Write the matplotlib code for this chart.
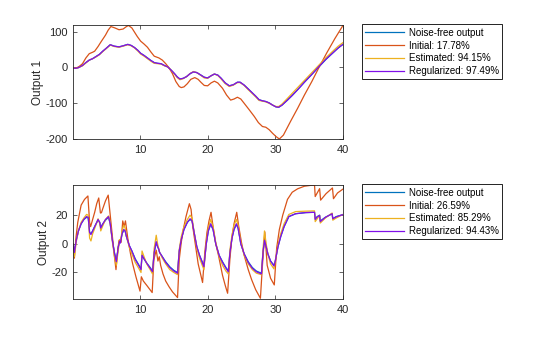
import matplotlib
matplotlib.use("Agg")
import matplotlib.pyplot as plt

plt.rcParams["font.family"] = ["Liberation Sans", "DejaVu Sans"]
plt.rcParams["axes.unicode_minus"] = False

C_TRUE = "#0072BD"
C_INIT = "#D95319"
C_EST = "#EDB120"
C_REG = "#8010E8"

# ---- output 1 ----
t1 = [0.1, 0.5, 0.9, 1.5, 2.0, 2.5, 3.0, 3.5, 4.0, 4.5, 5.0, 5.6, 6.2, 6.9, 7.5, 8.2, 8.7, 9.2,
      9.7, 10.1, 10.6, 11.1, 11.6, 12.1, 12.6, 13.1, 13.6, 14.1, 14.6, 15.1, 15.5, 15.9, 16.4,
      16.9, 17.4, 17.9, 18.4, 19.0, 19.5, 20.0, 20.5, 21.0, 21.5, 22.0, 22.6, 23.2, 23.8, 24.4,
      24.8, 25.4, 25.9, 26.5, 27.1, 27.6, 28.1, 28.6, 29.1, 29.6, 30.1, 30.5, 31.0, 31.8, 32.5,
      33.4, 34.3, 35.3, 36.5, 37.5, 38.5, 39.3, 40.0]
y1_true = [-2, -3, -1, 5, 13, 20, 24, 30, 36, 45, 53, 63, 59, 57, 60, 64, 61, 55, 47, 39, 33, 26,
           19, 13, 11, 10, 5, 1, -8, -18, -27, -33, -31, -26, -18, -13, -15, -22, -28, -30, -24,
           -19, -22, -31, -44, -52, -49, -42, -42, -50, -59, -70, -81, -91, -94, -96, -100, -106,
           -111, -112, -106, -92, -79, -61, -42, -22, 2, 22, 40, 54, 64]
y1_est = [-2, -3, -1, 4, 12, 20, 24, 29, 35, 44, 52, 62, 58, 56, 59, 63, 60, 54, 45, 37, 31, 24,
          17, 11, 10, 9, 4, 1, -8, -19, -29, -35, -32, -26, -18, -12, -15, -23, -30, -31, -24,
          -19, -23, -33, -46, -54, -50, -43, -43, -51, -61, -72, -83, -93, -95, -97, -101, -106,
          -110, -110, -103, -87, -73, -55, -37, -17, 7, 27, 45, 59, 69]
y1_reg = [-2, -3, -1, 5, 13, 20, 24, 30, 36, 45, 53, 63, 59, 57, 60, 64, 61, 55, 47, 39, 33, 26,
          19, 13, 11, 10, 5, 1, -8, -18, -27, -33, -31, -26, -18, -13, -15, -22, -28, -30, -24,
          -19, -22, -31, -44, -52, -49, -42, -42, -50, -59, -70, -81, -91, -94, -96, -100, -106,
          -111, -112, -106, -92, -79, -61, -42, -22, 3, 23, 40, 54, 64]

t1_init = [0.1, 0.6, 1.0, 1.5, 2.0, 2.5, 3.0, 3.3, 3.8, 4.2, 4.9, 5.3, 5.7, 6.3, 6.9, 7.5, 8.0,
           8.3, 8.8, 9.2, 9.6, 10.1, 10.6, 11.1, 11.6, 12.1, 12.8, 13.3, 13.8, 14.3, 14.8, 15.3,
           15.8, 16.1, 16.5, 17.0, 17.5, 18.1, 18.6, 19.0, 19.5, 20.0, 20.5, 21.0, 21.5, 22.2,
           22.8, 23.4, 23.9, 24.4, 24.9, 25.4, 26.1, 26.9, 27.5, 28.1, 28.6, 29.1, 29.6, 30.1,
           30.6, 31.2, 32.3, 33.3, 34.3, 35.4, 36.5, 37.6, 38.8, 40.0]
y1_init = [-2, -2, 2, 10, 26, 38, 42, 45, 58, 70, 90, 104, 114, 110, 105, 107, 114, 117, 110, 98,
           86, 73, 65, 56, 43, 31, 26, 20, 10, -2, -18, -40, -54, -57, -55, -46, -34, -29, -34,
           -42, -51, -52, -44, -39, -44, -59, -78, -92, -89, -84, -89, -101, -118, -138, -155,
           -166, -168, -175, -185, -194, -201, -190, -150, -115, -78, -40, 1, 40, 80, 117]

# ---- output 2 ----
t2 = [0.1, 0.3, 0.6, 0.9, 1.3, 1.7, 2.1, 2.35, 2.55, 2.75, 3.0, 3.4, 3.8, 4.05, 4.2, 4.45, 4.9,
      5.35, 5.6, 5.9, 6.2, 6.5, 6.8, 7.0, 7.1, 7.35, 7.6, 7.8, 8.0, 8.4, 8.8, 9.3, 9.8, 10.15,
      10.3, 10.6, 11.0, 11.5, 11.85, 12.1, 12.4, 12.6, 12.75, 12.9, 13.3, 13.8, 14.4, 15.0,
      15.55, 15.8, 16.1, 16.5, 17.0, 17.4, 17.7, 18.0, 18.4, 18.8, 19.2, 19.45, 19.8, 20.1,
      20.45, 20.8, 21.2, 21.7, 22.2, 22.7, 23.05, 23.3, 23.6, 23.9, 24.25, 24.5, 24.9, 25.4,
      26.0, 26.6, 27.2, 27.95, 28.2, 28.4, 28.65, 28.9, 29.3, 29.8, 30.0, 30.4, 30.8, 31.3,
      32.0, 33.0, 34.5, 35.8, 35.9, 36.2, 36.55, 36.65, 37.4, 38.4, 38.5, 39.0, 40.0]
y2_true = [0, -5, 3, 9, 14, 17, 18.5, 18, 8, 7, 9, 13, 16.5, 15, 11.5, 13.5, 16.5, 18.5, 14, 3,
           -5.5, -12, -2, 2, 1, 7, 9.5, 9, 5, -1, -5, -10.5, -14.5, -17.5, -8, -10.5, -13.5,
           -16.5, -19, -6, 1, -2, -3.5, -6, -9, -12.5, -16, -18.5, -20, -5, 3, 10, 15, 17, 16,
           8, -2, -8, -12.5, -15.5, 0, 9, 13.5, 10, 0, -8, -12.5, -16.5, -19, -6, 4, 10, 13.5,
           11, 0, -7, -12.5, -16.5, -19, -20.5, -5, 2, -2, -7, -12, -15, -12, -2, 5, 12, 19, 21,
           21.8, 22, 17.5, 19, 20, 16, 18.5, 21, 17.5, 19, 20.4]
y2_est = [0, -9, 2, 9, 15, 18, 20.5, 20, 4, 2, 7, 12, 17.5, 14, 9, 12, 17, 19.5, 14, 2, -8, -15,
          -4, 3, 1, 9, 13, 11, 5, -2, -7, -13, -17, -20, -5, -9, -14, -18, -21, -3, 6, 0, -3,
          -6, -10, -14, -18, -20, -21.5, -4, 5, 12, 17, 20, 18, 8, -3, -10, -15, -18, 1, 11, 17,
          12, 1, -9, -15, -19, -21, -4, 6, 13, 17, 13, 1, -8, -14, -18, -20.5, -21.5, -3, 9, 0,
          -7, -14, -17.5, -12, -1, 7, 14, 20.5, 22.5, 22.8, 23, 15.5, 17.5, 19.8, 14.5, 18, 21.5,
          16.5, 18, 20.5]
y2_reg = [0, -6, 3, 9, 14, 17, 19, 18.5, 8, 6.5, 9, 13, 17, 15, 11, 13.5, 17, 19, 14, 3, -6,
          -12.5, -2, 2, 0.5, 7, 10, 9, 5, -1, -5, -11, -15, -18, -8, -10.5, -13.5, -17, -19.5,
          -6, 1.5, -2, -3.5, -6, -9, -13, -16.5, -19, -20.5, -5, 3, 10, 15, 17.5, 16, 8, -2, -8,
          -13, -16, 0, 9, 14, 10, 0, -8, -13, -17, -19.5, -6, 4, 10, 14, 11, 0, -7, -13, -17,
          -19.5, -21, -5, 2.5, -2, -7, -12, -15.5, -12, -2, 5, 12, 19, 21, 21.8, 22, 17, 18.8,
          19.8, 15.5, 18.5, 21, 17.5, 18.8, 20.4]

t2_init = [0.1, 0.3, 0.55, 0.8, 1.3, 1.8, 2.3, 2.55, 2.7, 3.0, 3.3, 3.6, 3.9, 4.15, 4.3, 4.5,
           4.9, 5.3, 5.6, 5.9, 6.2, 6.45, 6.7, 6.9, 7.2, 7.45, 7.65, 7.85, 8.2, 8.6, 8.9, 9.4,
           10.0, 10.2, 10.5, 11.0, 11.4, 11.8, 12.05, 12.4, 12.65, 12.85, 13.05, 13.4, 13.8,
           14.3, 14.8, 15.55, 15.8, 16.1, 16.4, 16.8, 17.3, 17.55, 17.8, 18.2, 18.6, 19.0,
           19.25, 19.6, 19.9, 20.2, 20.5, 20.8, 21.2, 21.6, 22.2, 22.6, 22.95, 23.3, 23.6, 23.9,
           24.3, 24.6, 25.0, 25.4, 26.0, 26.5, 27.1, 27.8, 28.1, 28.45, 28.8, 29.3, 29.85, 30.2,
           30.6, 31.1, 31.8, 32.5, 33.3, 34.3, 35.2, 35.8, 35.9, 36.55, 36.7, 37.5, 38.45, 38.6,
           39.2, 40.0]
y2_init = [0, -10, 5, 15, 27, 31, 33.4, 15, 12, 17, 22, 28, 32, 21.5, 21.7, 24.6, 30, 34, 20, 6,
           -8, -18, -5, 2.5, 1, 16, 12, 16, 3.7, -7, -13.7, -23, -33, -23, -26, -29, -31.5, -34,
           -11, -4.4, -12, -9, -15, -21, -26, -30, -33.5, -37.5, -11, 1, 10, 19, 28, 24, 12, -1,
           -14, -22, -27, -5, 8, 16, 22, 12, 0, -8, -22, -29, -34.5, -10, 5, 14, 22, 12, 1, -8,
           -18, -25, -32, -38, -15, 8.3, -15, -24, -28.7, -3, 10, 20, 31, 36, 38.4, 40.2, 40.8,
           41, 33, 38.5, 30.5, 35, 39, 31.5, 35.5, 38.2]

panels = [
    dict(t=t1, y_true=y1_true, y_est=y1_est, y_reg=y1_reg, t_init=t1_init, y_init=y1_init,
         ylim=(-201, 118), yticks=[-200, -100, 0, 100], ylabel="Output 1",
         pct=["17.78%", "94.15%", "97.49%"], pos=[0.1304, 0.5875, 0.482, 0.338]),
    dict(t=t2, y_true=y2_true, y_est=y2_est, y_reg=y2_reg, t_init=t2_init, y_init=y2_init,
         ylim=(-38.5, 41), yticks=[-20, 0, 20], ylabel="Output 2",
         pct=["26.59%", "85.29%", "94.43%"], pos=[0.1304, 0.1128, 0.482, 0.338]),
]

fig = plt.figure(figsize=(5.6, 3.37), dpi=100)
lw = 0.9
for p in panels:
    ax = fig.add_axes(p["pos"])
    ax.plot(p["t"], p["y_true"], color=C_TRUE, lw=lw, label="Noise-free output")
    ax.plot(p["t_init"], p["y_init"], color=C_INIT, lw=lw, label=f"Initial: {p['pct'][0]}")
    ax.plot(p["t"], p["y_est"], color=C_EST, lw=lw, label=f"Estimated: {p['pct'][1]}")
    ax.plot(p["t"], p["y_reg"], color=C_REG, lw=lw, label=f"Regularized: {p['pct'][2]}")
    ax.set_xlim(0.1, 40)
    ax.set_ylim(*p["ylim"])
    ax.set_xticks([10, 20, 30, 40])
    ax.set_yticks(p["yticks"])
    ax.set_ylabel(p["ylabel"], fontsize=8.5, color="#262626", labelpad=1)
    ax.tick_params(direction="in", top=True, right=True, length=3, width=0.5,
                   labelsize=8, colors="#262626", pad=4)
    for s in ax.spines.values():
        s.set_linewidth(0.6)
        s.set_color("#262626")
    top = p["pos"][1] + p["pos"][3]
    leg = ax.legend(loc="upper left", bbox_to_anchor=(0.646, top + 0.002),
                    bbox_transform=fig.transFigure, fontsize=7, frameon=True,
                    fancybox=False, framealpha=1, edgecolor="black", borderpad=0.35,
                    handlelength=4.0, handletextpad=0.5, labelspacing=0.28,
                    borderaxespad=0)
    leg.get_frame().set_linewidth(0.6)

fig.savefig("out.png", dpi=100)
